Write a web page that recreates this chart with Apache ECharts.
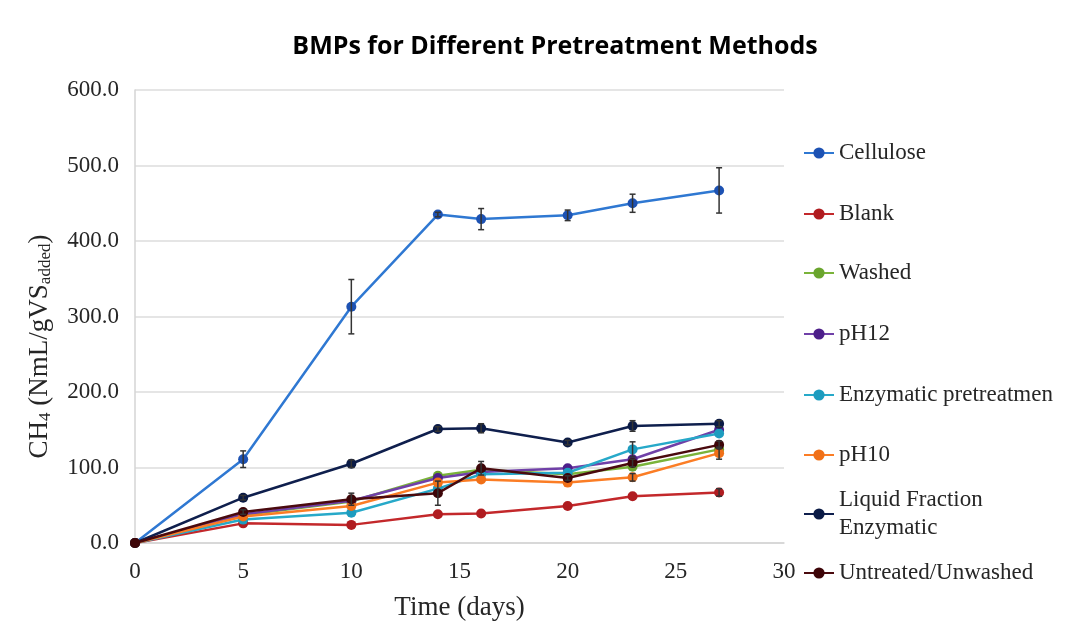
<!DOCTYPE html>
<html>
<head>
<meta charset="utf-8">
<script src="https://cdn.jsdelivr.net/npm/echarts@6/dist/echarts.min.js"></script>
<style>
html,body{margin:0;padding:0;background:#fff;}
#c{width:1073px;height:639px;}
</style>
</head>
<body>
<div id="c"></div>
<script>
// ---- data ----
const days = [0, 5, 10, 14, 16, 20, 23, 27];
const seriesNames = ["Cellulose", "Blank", "Washed", "pH12", "Enzymatic pretreatmen", "pH10", "Liquid Fraction Enzymatic", "Untreated/Unwashed"];
const cellulose = [0, 111, 313, 435, 429, 434, 450, 467];
const blank = [0, 26, 24, 38, 39, 49, 62, 67];
const washed = [0, 37, 55, 89, 97, 91, 101, 124];
const pH12 = [0, 38, 56, 86, 94, 99, 111, 150];
const enzymatic = [0, 31, 40, 72, 91, 93, 124, 145];
const pH10 = [0, 35, 49, 80, 84, 80, 87, 119];
const liquid = [0, 60, 105, 151, 152, 133, 155, 158];
const untreated = [0, 41, 58, 66, 99, 86, 106, 130];
// error bar half-widths (±)
const celluloseErr = [0, 11, 36, 3, 14, 7, 12, 30];
const blankErr = [0, 0, 0, 0, 0, 0, 0, 5];
const enzymaticErr = [0, 0, 0, 0, 0, 0, 10, 0];
const pH10Err = [0, 0, 0, 0, 0, 0, 5, 8];
const liquidErr = [0, 3, 5, 3, 6, 3, 7, 4];
const untreatedErr = [0, 3, 8, 16, 9, 3, 5, 5];
const yTicks = [0, 100, 200, 300, 400, 500, 600];
const xTicks = [0, 5, 10, 15, 20, 25, 30];

// ---- styling ----
const values = [cellulose, blank, washed, pH12, enzymatic, pH10, liquid, untreated];
const errs = [celluloseErr, blankErr, null, null, enzymaticErr, pH10Err, liquidErr, untreatedErr];
const lineColors = ["#2f78d2", "#c3282b", "#7ab33a", "#7040a8", "#27a9c9", "#fb7d25", "#0f1f4d", "#4a0a0e"];
const markColors = ["#1d52b3", "#b01c20", "#6aa52e", "#4d1f8a", "#1d9cbf", "#f07018", "#0a1a45", "#3d0508"];
const legendCenters = [148, 209, 268, 329, 390, 450, 509, 568];
const serif = "Liberation Serif";

const series = [];
values.forEach((v, i) => {
  series.push({
    name: seriesNames[i],
    type: "line",
    data: days.map((d, k) => [d, v[k]]),
    symbol: "circle",
    symbolSize: 10,
    lineStyle: { color: lineColors[i], width: 2.5 },
    itemStyle: { color: markColors[i] },
    z: 3 + i * 0.01,
    emphasis: { disabled: true }
  });
});
errs.forEach((e, i) => {
  if (!e) return;
  const d = [];
  days.forEach((x, k) => { if (e[k] > 0) d.push([x, values[i][k] - e[k], values[i][k] + e[k]]); });
  series.push({
    type: "custom",
    name: seriesNames[i] + " err",
    data: d,
    z: 4,
    silent: true,
    renderItem: function (params, api) {
      const x = api.value(0);
      const lo = api.coord([x, api.value(1)]);
      const hi = api.coord([x, api.value(2)]);
      const w = 3;
      const st = { stroke: "#333", lineWidth: 1.5 };
      return {
        type: "group",
        children: [
          { type: "line", shape: { x1: lo[0], y1: lo[1], x2: hi[0], y2: hi[1] }, style: st },
          { type: "line", shape: { x1: lo[0] - w, y1: lo[1], x2: lo[0] + w, y2: lo[1] }, style: st },
          { type: "line", shape: { x1: hi[0] - w, y1: hi[1], x2: hi[0] + w, y2: hi[1] }, style: st }
        ]
      };
    }
  });
});

const legends = seriesNames.map((n, i) => {
  const multi = n === "Liquid Fraction Enzymatic";
  return {
    orient: "vertical",
    left: 798,
    top: legendCenters[i] - (multi ? 42 : 14),
    itemWidth: 30,
    itemHeight: 14,
    itemGap: 6,
    data: [n],
    selectedMode: false,
    formatter: multi ? "Liquid Fraction\nEnzymatic" : "{name}",
    textStyle: {
      fontFamily: serif, fontSize: 23, color: "#262626", lineHeight: 28,
      padding: multi ? [28, 0, 0, 0] : 0
    }
  };
});

const chart = echarts.init(document.getElementById("c"), null, { renderer: "canvas" });
chart.setOption({
  backgroundColor: "#fff",
  animation: false,
  title: {
    text: "BMPs for Different Pretreatment Methods",
    left: 550, top: 29, textAlign: "center",
    textStyle: { fontFamily: "Open Sans", fontWeight: "bold", fontSize: 25, color: "#000" }
  },
  legend: legends,
  grid: { left: 135, right: 289, top: 90, bottom: 96 },
  xAxis: {
    type: "value", min: xTicks[0], max: xTicks[xTicks.length - 1], interval: 5,
    name: "Time (days)", nameLocation: "middle", nameGap: 51,
    nameTextStyle: { fontFamily: serif, fontSize: 27, color: "#262626" },
    axisLine: { show: true, lineStyle: { color: "#d4d4d4", width: 1.5 } },
    axisTick: { show: false },
    splitLine: { show: false },
    axisLabel: { fontFamily: serif, fontSize: 23, color: "#262626", margin: 17 }
  },
  yAxis: {
    type: "value", min: yTicks[0], max: yTicks[yTicks.length - 1], interval: 100,
    name: "{a|CH}{s|4}{a| (NmL/gVS}{s|added}{a|)}",
    nameLocation: "middle", nameGap: 79,
    nameTextStyle: {
      padding: [0, 60, 0, 0],
      rich: {
        a: { fontFamily: serif, fontSize: 27, color: "#262626", lineHeight: 32 },
        s: { fontFamily: serif, fontSize: 17, color: "#262626", lineHeight: 32, padding: [11, 0, 0, 0] }
      }
    },
    axisLine: { show: true, lineStyle: { color: "#d4d4d4", width: 1.5 } },
    axisTick: { show: false },
    splitLine: { show: true, lineStyle: { color: "#dcdcdc", width: 1.5 } },
    axisLabel: {
      fontFamily: serif, fontSize: 23, color: "#262626", margin: 16,
      formatter: v => v.toFixed(1)
    }
  },
  series: series
});
</script>
</body>
</html>
